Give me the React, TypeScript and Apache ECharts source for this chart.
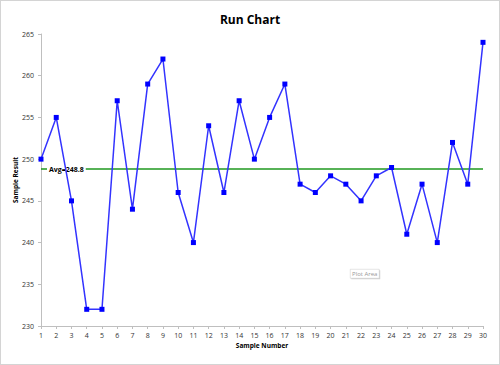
import React, { useEffect, useRef } from "react";
import * as echarts from "echarts";

const sampleNumbers = [1,2,3,4,5,6,7,8,9,10,11,12,13,14,15,16,17,18,19,20,21,22,23,24,25,26,27,28,29,30];
const sampleResults = [250,255,245,232,232,257,244,259,262,246,240,254,246,257,250,255,259,247,246,248,247,245,248,249,241,247,240,252,247,264];
const average = 248.8;
const titleText = "Run Chart";

export default function App() {
  const ref = useRef<HTMLDivElement>(null);
  useEffect(() => {
    document.body.style.margin = "0";
    const chart = echarts.init(ref.current!, null, { renderer: "svg" });
    const font = "'Open Sans', 'Liberation Sans', sans-serif";
    chart.setOption({
      animation: false,
      backgroundColor: "#fff",
      title: {
        text: titleText,
        left: "center",
        top: 7,
        textStyle: { fontFamily: font, fontSize: 12, fontWeight: "bold", color: "#000" },
      },
      grid: { left: 40, right: 16, top: 33, bottom: 38, containLabel: false, outerBoundsMode: "none" },
      xAxis: {
        type: "value",
        min: 1,
        max: 30,
        interval: 1,
        name: "Sample Number",
        nameLocation: "middle",
        nameGap: 16,
        nameMoveOverlap: false,
        nameTextStyle: { fontFamily: font, fontSize: 6.5, fontWeight: "bold", color: "#000" },
        axisLine: { show: true, lineStyle: { color: "#bfbfbf" } },
        axisTick: { show: true, length: 3, lineStyle: { color: "#bfbfbf" } },
        axisLabel: { fontFamily: font, fontSize: 7, color: "#333", margin: 6 },
        splitLine: { show: false },
      },
      yAxis: {
        type: "value",
        min: 230,
        max: 265,
        interval: 5,
        name: "Sample Result",
        nameLocation: "middle",
        nameGap: 22,
        nameMoveOverlap: false,
        nameTextStyle: { fontFamily: font, fontSize: 6.5, fontWeight: "bold", color: "#000" },
        axisLine: { show: true, lineStyle: { color: "#bfbfbf" } },
        axisTick: { show: true, length: 3, lineStyle: { color: "#bfbfbf" } },
        axisLabel: { fontFamily: font, fontSize: 7, color: "#333", margin: 7 },
        splitLine: { show: false },
      },
      series: [
        {
          type: "line",
          data: sampleNumbers.map((n, i) => [n, sampleResults[i]]),
          symbol: "rect",
          symbolSize: 5,
          itemStyle: { color: "#0000ff" },
          lineStyle: { color: "#3333ff", width: 1.5 },
          z: 3,
          markLine: {
            silent: true,
            symbol: "none",
            z: 2,
            lineStyle: { color: "#1f991f", width: 1.5, type: "solid" },
            data: [{ yAxis: average }],
            label: {
              show: true,
              position: "insideStart",
              distance: [6, -3.5],
              formatter: "Avg=" + average,
              fontFamily: font,
              fontSize: 7,
              fontWeight: "bold",
              color: "#000",
              backgroundColor: "#fff",
              padding: [0, 2],
            },
          },
        },
      ],
      graphic: [
        {
          type: "group",
          left: 349,
          top: 268,
          children: [
            { type: "rect", shape: { x: 1, y: 1, width: 29, height: 9 }, style: { fill: "#d0d0d0" } },
            { type: "rect", shape: { x: 0, y: 0, width: 29, height: 9 }, style: { fill: "#fff", stroke: "#c8c8c8", lineWidth: 0.5 } },
            { type: "text", style: { x: 14.5, y: 4.5, text: "Plot Area", align: "center", verticalAlign: "middle", fontFamily: font, fontSize: 6, fill: "#999" } },
          ],
        },
      ],
    });
    return () => chart.dispose();
  }, []);
  return (
    <div
      ref={ref}
      style={{ position: "fixed", left: 0, top: 0, width: 500, height: 365, boxSizing: "border-box", border: "1px solid #d4d4d4" }}
    />
  );
}
